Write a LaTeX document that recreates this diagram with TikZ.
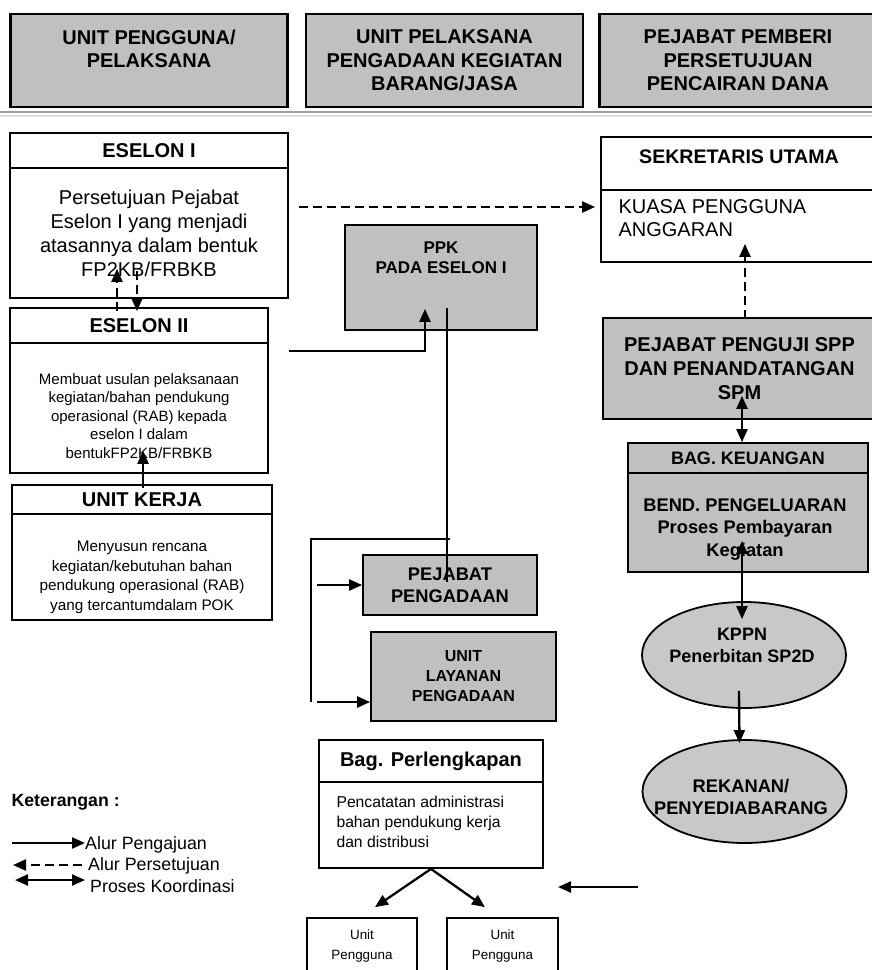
\documentclass[tikz,border=0pt]{standalone}
\usepackage{fontspec}
\setmainfont{Liberation Sans}
\usepackage{tikz}
\usetikzlibrary{arrows.meta, calc, shapes.geometric, positioning}
\definecolor{boxgray}{RGB}{192,192,192}
\definecolor{ovalgray}{RGB}{200,200,200}
\newcommand{\fs}[2]{\fontsize{#1}{#2}\selectfont}

\begin{document}
\begin{tikzpicture}[x=1pt, y=-1pt,
  box/.style={draw, line width=1.8pt, inner sep=0pt},
  graybox/.style={box, fill=boxgray},
  header/.style={graybox, line width=2.2pt, minimum width=277pt, minimum height=93pt, align=center, font={\bfseries\fs{20}{23.5}}},
  strip/.style={box, anchor=north, font={\bfseries\fs{20}{24}}},
  oval/.style={ellipse, draw, line width=1.8pt, fill=ovalgray, inner sep=0pt},
  submit/.style={line width=2.3pt, -{Triangle[length=13pt, width=11pt]}},
  approve/.style={line width=2.3pt, dash pattern=on 9pt off 5pt, -{Triangle[length=13pt, width=11pt]}},
  coord/.style={line width=2.3pt, {Triangle[length=13pt, width=11pt]}-{Triangle[length=13pt, width=11pt]}},
  link/.style={line width=1.6pt},
]
  \path[use as bounding box, fill=white] (0,0) rectangle (872,970);
  \clip (0,0) rectangle (872,970);

  % header row
  \node[header] (hd1) at (149,60.5) {UNIT PENGGUNA/\\PELAKSANA\\~};
  \node[header] (hd2) at (444.5,60.5) {UNIT PELAKSANA\\PENGADAAN KEGIATAN\\BARANG/JASA};
  \node[header] (hd3) at (738,60.5) {PEJABAT PEMBERI\\PERSETUJUAN\\PENCAIRAN DANA};
  \draw[gray!75, line width=1.5pt] (0,112) -- (872,112);
  \draw[gray!25, line width=2pt] (0,116) -- (872,116);

  % left column
  \node[box, minimum width=278pt, minimum height=165pt] (es1) at (149,215.5) {};
  \node[strip, minimum width=278pt, minimum height=35pt] (es1t) at (es1.north) {ESELON I};
  \node[align=center, font=\fs{20}{24}] (es1b) at (149,233) {Persetujuan Pejabat\\Eselon I yang menjadi\\atasannya dalam bentuk\\FP2KB/FRBKB};

  \node[box, minimum width=258pt, minimum height=165pt] (es2) at (139,390.5) {};
  \node[strip, minimum width=258pt, minimum height=35pt] (es2t) at (es2.north) {ESELON II};
  \node[align=center, font=\fs{15}{18.5}] (es2b) at (139,416) {Membuat usulan pelaksanaan\\kegiatan/bahan pendukung\\operasional (RAB) kepada\\eselon I dalam\\bentukFP2KB/FRBKB};

  \node[box, minimum width=260pt, minimum height=135pt] (uk) at (142,552.5) {};
  \node[strip, minimum width=260pt, minimum height=29pt] (ukt) at (uk.north) {UNIT KERJA};
  \node[align=center, font=\fs{15.3}{19.5}] (ukb) at (142,577.5) {Menyusun rencana\\kegiatan/kebutuhan bahan\\pendukung operasional (RAB)\\yang tercantumdalam POK};

  % middle column
  \node[graybox, minimum width=192pt, minimum height=105pt] (ppk) at (441,277.5) {};
  \node[align=center, font={\bfseries\fs{17}{20}}] (ppkt) at (441,258) {PPK\\PADA ESELON I};
  \node[graybox, minimum width=174pt, minimum height=60pt, align=center, font={\bfseries\fs{18.3}{22}}] (pjp) at (450,585) {PEJABAT\\PENGADAAN};
  \node[graybox, minimum width=185pt, minimum height=89pt, align=center, font={\bfseries\fs{16}{20}}] (ulp) at (463.5,676.5) {UNIT\\LAYANAN\\PENGADAAN};

  \node[box, minimum width=224pt, minimum height=128pt] (bp) at (431,804) {};
  \node[strip, minimum width=224pt, minimum height=42pt] (bpt) at (bp.north) {Bag. Perlengkapan};
  \node[anchor=west, align=left, font=\fs{15.7}{20}] (bpb) at (333,822) {Pencatatan administrasi\\bahan pendukung kerja\\dan distribusi};
  \node[box, minimum width=110pt, minimum height=56pt, align=center, font=\fs{13.4}{20}] (up1) at (362,946) {Unit\\Pengguna};
  \node[box, minimum width=111pt, minimum height=56pt, align=center, font=\fs{13.4}{20}] (up2) at (502.5,946) {Unit\\Pengguna};

  % right column
  \node[box, minimum width=275pt, minimum height=125pt] (sek) at (738.5,199.5) {};
  \node[strip, minimum width=275pt, minimum height=53pt] (sekstrip) at (sek.north) {};
  \node[font={\bfseries\fs{19.6}{23}}] (sekt) at (739,157) {SEKRETARIS UTAMA};
  \node[anchor=west, align=left, font=\fs{20}{23}] (kpa) at (615,218.5) {KUASA PENGGUNA\\ANGGARAN};

  \node[graybox, minimum width=273pt, minimum height=101pt, align=center, font={\bfseries\fs{20}{24}}] (ppj) at (739.5,368.5) {PEJABAT PENGUJI SPP\\DAN PENANDATANGAN\\SPM};

  \node[graybox, minimum width=240pt, minimum height=129pt] (bagk) at (748,507.5) {};
  \node[strip, fill=boxgray, minimum width=240pt, minimum height=30pt, font={\bfseries\fs{18}{22}}] (bagkt) at (bagk.north) {BAG. KEUANGAN};
  \node[align=center, font={\bfseries\fs{18.3}{22.5}}] (bagkb) at (745,529.5) {BEND. PENGELUARAN\\Proses Pembayaran\\Kegiatan};

  \node[oval, minimum width=204pt, minimum height=106pt] (kppn) at (744,655) {};
  \node[align=center, font={\bfseries\fs{18}{22}}] (kppnt) at (742,645) {KPPN\\Penerbitan SP2D};
  \node[oval, minimum width=204pt, minimum height=103pt] (rek) at (744.5,791.5) {};
  \node[align=center, font={\bfseries\fs{18.3}{22}}] (rekt) at (741,797) {REKANAN/\\PENYEDIABARANG};

  % legend
  \node[anchor=west, font={\bfseries\fs{17.7}{21}}] (ket) at (8,802) {Keterangan :};
  \node[anchor=west, inner sep=0pt, font=\fs{17.8}{21}] (lg1) at (85,845) {Alur Pengajuan};
  \node[anchor=west, inner sep=0pt, font=\fs{17.8}{21}] (lg2) at (88,866) {Alur Persetujuan};
  \node[anchor=west, inner sep=0pt, font=\fs{17.8}{21}] (lg3) at (90,886) {Proses Koordinasi};
  \coordinate (lg1s) at (12,843);
  \coordinate (lg2e) at (13,865);
  \coordinate (lg3s) at (15,880);
  \draw[submit] (lg1s) -- (lg1s -| lg1.west);
  \draw[approve] ($(lg2e -| lg2.west)+(-6,0)$) -- (lg2e);
  \draw[coord] (lg3s) -- ($(lg3s -| lg3.west)+(-5,0)$);

  % connectors
  \draw[approve] ([xshift=-22pt,yshift=-4pt]es2.north) -- ([xshift=-32pt,yshift=30pt]es1.south);
  \draw[approve] ([xshift=-12pt,yshift=28pt]es1.south) -- ([xshift=-2pt,yshift=-4pt]es2.north);
  \draw[submit] ([xshift=1pt,yshift=-4pt]uk.north) -- ([xshift=4pt,yshift=23pt]es2.south);
  \draw[approve] ([xshift=10pt,yshift=8.5pt]es1.east) -- ([xshift=-5pt,yshift=-7.5pt]sek.west);
  \draw[submit] ([xshift=20pt,yshift=39.5pt]es2.east) -| ([xshift=-16pt,yshift=22pt]ppk.south);
  \draw[link] ([xshift=6pt,yshift=23pt]ppk.south) -- ([xshift=-3pt,yshift=3pt]pjp.center);

  \coordinate (lpA) at (450,539);
  \coordinate (lpB) at (311,539);
  \coordinate (lpC) at (311,702);
  \coordinate (lpD) at (317,585);
  \coordinate (lpE) at (317,702);
  \draw[link] (lpA) -- (lpB) -- (lpC);
  \draw[submit] (lpD) -- (pjp.west);
  \draw[submit] (lpE) -- (lpE -| ulp.west);

  \draw[submit] (bp.south) -- ([xshift=13pt,yshift=10pt]up1.north);
  \draw[submit] (bp.south) -- ([xshift=-17.5pt,yshift=10pt]up2.north);
  \coordinate (fromR) at (638,887);
  \coordinate (toL) at (558,887);
  \draw[submit] (fromR) -- (toL);

  \draw[approve] ([xshift=5.5pt,yshift=-2pt]ppj.north) -- ([xshift=6.5pt,yshift=19pt]sek.south);
  \draw[coord] ([xshift=2.5pt,yshift=24pt]ppj.south) -- ([xshift=-6pt]bagk.north);
  \draw[coord] ([xshift=-6pt,yshift=32pt]bagk.south) -- ([xshift=-2pt,yshift=-18pt]kppn.north);
  \draw[submit] ([xshift=-5pt,yshift=18pt]kppn.south) -- ([xshift=-5pt,yshift=-4pt]rek.north);
\end{tikzpicture}
\end{document}
